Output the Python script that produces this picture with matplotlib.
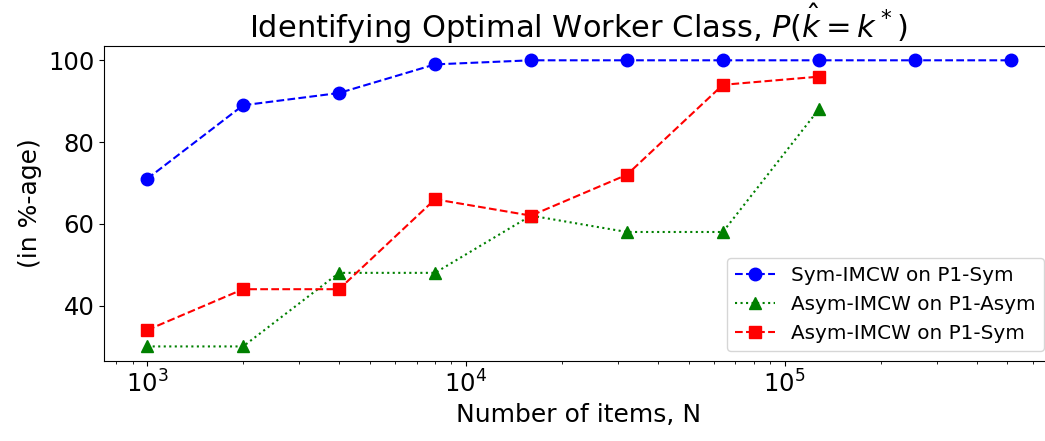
import numpy as np
import matplotlib
matplotlib.use("Agg")
import matplotlib.pyplot as plt

# number of items (log axis)
n_sym = [1000, 2000, 4000, 8000, 16000, 32000, 64000, 128000, 256000, 512000]
n_asym = [1000, 2000, 4000, 8000, 16000, 32000, 64000, 128000]

# accuracy in percent
sym_on_sym = [71, 89, 92, 99, 100, 100, 100, 100, 100, 100]
asym_on_asym = [30, 30, 48, 48, 62, 58, 58, 88]
asym_on_sym = [34, 44, 44, 66, 62, 72, 94, 96]

fig = plt.figure(figsize=(10.45, 4.41), dpi=100)
ax = fig.add_axes([0.0995, 0.182, 0.909, 0.7137])

ax.plot(n_sym, sym_on_sym, "b--", marker="o", markersize=9, label="Sym-IMCW on P1-Sym")
ax.plot(n_asym, asym_on_asym, "g:", marker="^", markersize=9, label="Asym-IMCW on P1-Asym")
ax.plot(n_asym, asym_on_sym, "r--", marker="s", markersize=9, label="Asym-IMCW on P1-Sym")

ax.set_xscale("log")
ax.set_title(r"Identifying Optimal Worker Class, $P(\hat{k}=k^*)$", fontsize=22)
ax.set_xlabel("Number of items, N", fontsize=18)
ax.set_ylabel("(in %-age)", fontsize=18)
ax.tick_params(axis="both", which="major", labelsize=17.5)
ax.legend(loc="lower right", fontsize=14.4)

fig.savefig("out.png", dpi=100)
